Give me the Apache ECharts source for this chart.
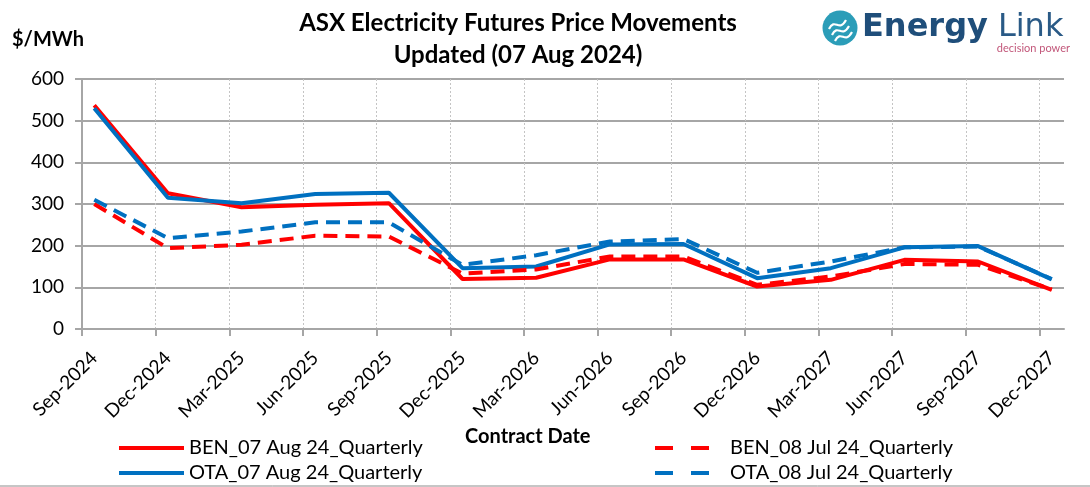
<!DOCTYPE html>
<html>
<head>
<meta charset="utf-8">
<script src="https://cdn.jsdelivr.net/npm/echarts@6/dist/echarts.min.js"></script>
<style>
  html, body { margin: 0; padding: 0; background: #fff; }
  #main { width: 1090px; height: 487px; }
</style>
</head>
<body>
<div id="main"></div>
<script>
// contract months, counted from Sep-2024 (quarter starts)
const months = [0, 3, 6, 9, 12, 15, 18, 21, 24, 27, 30, 33, 36, 39]
const categories = [
  'Sep-2024', 'Dec-2024', 'Mar-2025', 'Jun-2025', 'Sep-2025', 'Dec-2025', 'Mar-2026',
  'Jun-2026', 'Sep-2026', 'Dec-2026', 'Mar-2027', 'Jun-2027', 'Sep-2027', 'Dec-2027'
]
const yTicks = [0, 100, 200, 300, 400, 500, 600]

// $/MWh
const benAug = [537, 326, 292, 298, 302, 120, 123, 167, 167, 102, 118, 166, 162, 94]
const otaAug = [530, 315, 302, 324, 327, 146, 150, 203, 204, 122, 146, 196, 199, 119]
const benJul = [300, 194, 202, 224, 222, 133, 143, 174, 174, 106, 126, 156, 154, 95]
const otaJul = [310, 218, 234, 256, 256, 154, 177, 210, 216, 135, 162, 196, 198, 120]

const seriesNames = [
  'BEN_07 Aug 24_Quarterly',
  'OTA_07 Aug 24_Quarterly',
  'BEN_08 Jul 24_Quarterly',
  'OTA_08 Jul 24_Quarterly'
]

const FONT = 'Lato'
const RED = '#FF0000'
const BLUE = '#0070C0'
const GRID_GREY = '#A6A6A6'

// points sit mid-month of each contract month
const labelPos = months.map(m => m + 0.5)
const toPoints = arr => arr.map((v, i) => [labelPos[i], v])

const chart = echarts.init(document.getElementById('main'), null, { renderer: 'canvas' })

const lineSeries = (name, data, color, dashed) => ({
  name: name,
  type: 'line',
  data: toPoints(data),
  symbol: 'none',
  lineStyle: {
    color: color,
    width: 4,
    type: dashed ? [14, 8] : 'solid'
  },
  itemStyle: { color: color },
  emphasis: { disabled: true },
  z: dashed ? 3 : 2
})

// one legend per entry so they can sit in two columns
const legendItem = (name, left, top, dashed) => ({
  data: [name],
  left: left,
  top: top,
  itemWidth: dashed ? 70 : 65,
  itemHeight: 20,
  itemStyle: { opacity: 0 },
  lineStyle: dashed ? { type: [18, 18], width: 4 } : { width: 4 },
  selectedMode: false,
  textStyle: { fontFamily: FONT, fontSize: 20, color: '#000' }
})

// white swirls in the logo badge
const wave = (x, y) => ({
  type: 'bezierCurve',
  shape: { x1: x, y1: y, cpx1: x + 6, cpy1: y - 12, cpx2: x + 10, cpy2: y + 4, x2: x + 17, y2: y - 9 },
  style: { fill: 'none', stroke: '#fff', lineWidth: 2.2 }
})

const option = {
  animation: false,
  title: {
    text: 'ASX Electricity Futures Price Movements\nUpdated (07 Aug 2024)',
    left: 513,
    top: 2,
    textAlign: 'center',
    textStyle: {
      fontFamily: FONT,
      fontWeight: 'bold',
      fontSize: 24,
      lineHeight: 32,
      color: '#000'
    }
  },
  legend: [
    legendItem(seriesNames[0], 112, 433, false),
    legendItem(seriesNames[1], 112, 458, false),
    legendItem(seriesNames[2], 648, 433, true),
    legendItem(seriesNames[3], 648, 458, true)
  ],
  grid: {
    left: 82,
    right: 26,
    top: 79,
    bottom: 158,
    containLabel: false
  },
  xAxis: {
    type: 'value',
    min: 0,
    max: 40,
    interval: 3,
    axisLine: { show: true, lineStyle: { color: GRID_GREY, width: 2 } },
    axisTick: {
      show: true,
      customValues: months,
      length: 7,
      lineStyle: { color: GRID_GREY, width: 2 }
    },
    splitLine: {
      show: true,
      customValues: months,
      lineStyle: { color: '#C4C4C4', width: 1, type: [2, 2] }
    },
    axisLabel: {
      customValues: labelPos,
      rotate: 45,
      margin: 26,
      fontFamily: FONT,
      fontSize: 19,
      color: '#000',
      formatter: v => categories[Math.round((v - 0.5) / 3)]
    }
  },
  yAxis: {
    type: 'value',
    min: 0,
    max: 600,
    interval: 100,
    axisLine: { show: true, lineStyle: { color: GRID_GREY, width: 2 } },
    axisTick: { show: true, length: 7, lineStyle: { color: GRID_GREY, width: 2 } },
    splitLine: { show: true, lineStyle: { color: GRID_GREY, width: 2 } },
    axisLabel: {
      margin: 18,
      fontFamily: FONT,
      fontSize: 19,
      color: '#000',
      formatter: v => (yTicks.includes(v) ? String(v) : '')
    }
  },
  graphic: [
    {
      type: 'text',
      x: 12,
      y: 30,
      style: { text: '$/MWh', fontFamily: FONT, fontWeight: 'bold', fontSize: 20, fill: '#000' }
    },
    {
      type: 'text',
      x: 465,
      y: 427,
      style: { text: 'Contract Date', fontFamily: FONT, fontWeight: 'bold', fontSize: 20, fill: '#000' }
    },
    // Energy Link logo
    {
      type: 'circle',
      shape: { cx: 840, cy: 28, r: 17.5 },
      style: { fill: '#2B9DB8' }
    },
    wave(829, 29),
    wave(832, 35),
    wave(835, 41),
    {
      type: 'text',
      x: 862,
      y: 28,
      style: {
        text: '{a|Energy}{b|Link}',
        verticalAlign: 'middle',
        rich: {
          a: { fontFamily: 'DejaVu Sans', fontSize: 32, fontWeight: 'bold', fill: '#1F4E7A' },
          b: { fontFamily: 'DejaVu Sans', fontSize: 32, fontWeight: 'normal', fill: '#2A5A86', padding: [0, 0, 0, 10] }
        }
      }
    },
    {
      type: 'text',
      x: 1070,
      y: 43,
      style: { text: 'decision power', align: 'right', fontFamily: FONT, fontSize: 11, fill: '#C2577A' }
    },
    {
      type: 'line',
      shape: { x1: 0, y1: 486, x2: 1090, y2: 486 },
      style: { stroke: '#8C8C8C', lineWidth: 1 }
    }
  ],
  series: [
    lineSeries(seriesNames[0], benAug, RED, false),
    lineSeries(seriesNames[1], otaAug, BLUE, false),
    lineSeries(seriesNames[2], benJul, RED, true),
    lineSeries(seriesNames[3], otaJul, BLUE, true)
  ]
}

chart.setOption(option)
</script>
</body>
</html>
